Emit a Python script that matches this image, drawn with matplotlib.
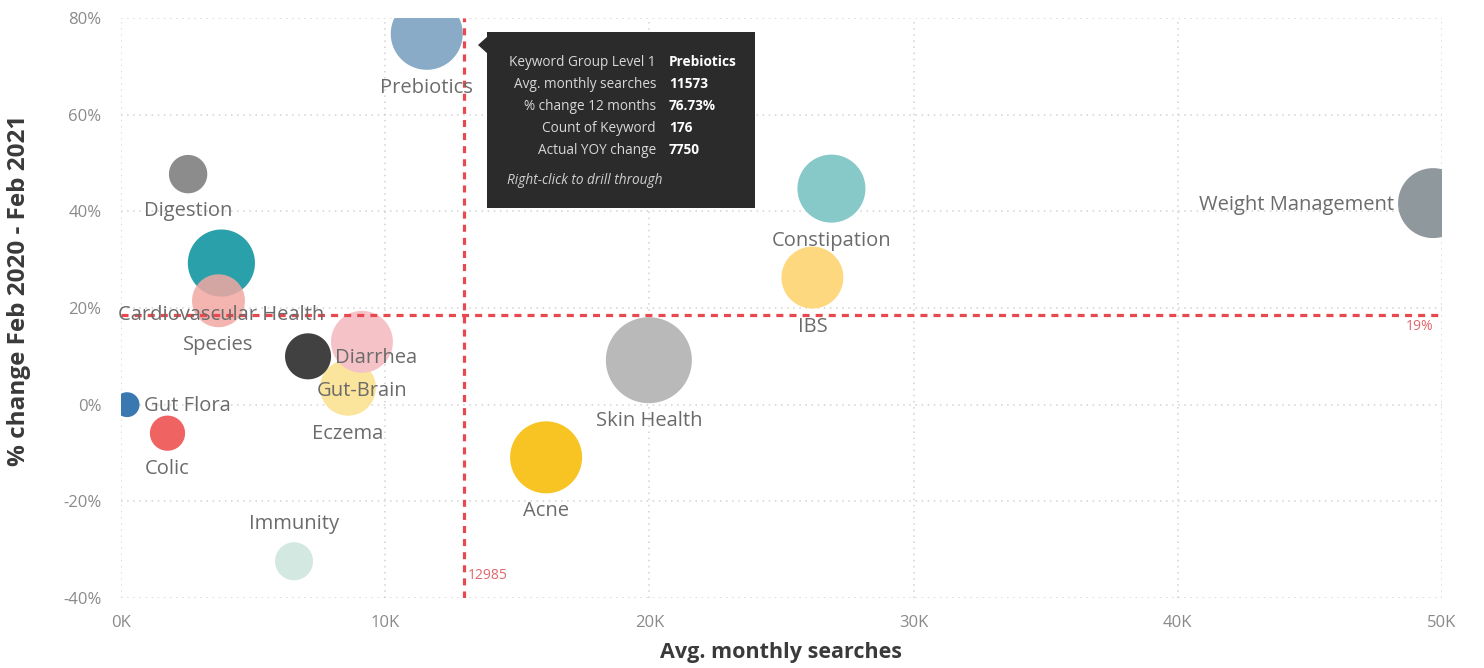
import matplotlib
matplotlib.use('Agg')
import matplotlib.pyplot as plt
from matplotlib.patches import Rectangle, Polygon
from matplotlib.ticker import FuncFormatter
from matplotlib.transforms import IdentityTransform
import numpy as np

plt.rcParams['font.family'] = ['Open Sans', 'DejaVu Sans']

# Data (keyword groups)
names = ['Prebiotics', 'Digestion', 'Cardiovascular Health', 'Species', 'Eczema',
         'Gut-Brain', 'Diarrhea', 'Gut Flora', 'Colic', 'Immunity', 'Acne',
         'Skin Health', 'IBS', 'Constipation', 'Weight Management']
searches = [11573, 2540, 3800, 3690, 8590, 9120, 7080, 230, 1760, 6550, 16090,
            19980, 26170, 26890, 49660]
pct_change = [76.73, 47.7, 29.3, 21.5, 3.5, 13.0, 10.0, 0.0, -5.9, -32.4, -10.9,
              9.2, 26.3, 44.7, 41.7]
keyword_count = [176, 50, 153, 95, 106, 130, 72, 21, 42, 49, 176, 251, 130, 157, 166]

avg_searches = 12985
avg_change = 18.6

tip_labels = ['Keyword Group Level 1', 'Avg. monthly searches', '% change 12 months',
              'Count of Keyword', 'Actual YOY change']
tip_values = ['Prebiotics', '11573', '76.73%', '176', '7750']

# styles
colors = ['#8aabc8', '#8c8c8c', '#2aa0aa', '#f3a8a2', '#fbe49c', '#f5c2c7',
          '#414141', '#3a78b2', '#f06363', '#d2e8e1', '#f8c423', '#b9b9b9',
          '#fdd87e', '#86c9c8', '#8f989c']
alphas = [1, 1, 1, 0.85, 1, 1, 1, 1, 1, 1, 1, 1, 1, 1, 1]
sides = ['below', 'below', 'below', 'below', 'below', 'below', 'right', 'right',
         'below', 'above', 'below', 'below', 'below', 'below', 'left']

W, H = 1484, 668
fig = plt.figure(figsize=(W / 100, H / 100), dpi=100)
ax = fig.add_axes([121 / W, 1 - 598 / H, (1442 - 121) / W, (598 - 18) / H])

ax.set_xlim(0, 50000)
ax.set_ylim(-40, 80)
ax.set_xticks(np.arange(0, 50001, 10000))
ax.set_yticks(np.arange(-40, 81, 20))
ax.xaxis.set_major_formatter(FuncFormatter(lambda v, p: '%dK' % (v / 1000)))
ax.yaxis.set_major_formatter(FuncFormatter(lambda v, p: '%d%%' % v))
ax.tick_params(length=0, labelsize=12, labelcolor='#8a8a8a')
ax.tick_params(axis='x', pad=12)
ax.tick_params(axis='y', pad=14)
for s in ax.spines.values():
    s.set_visible(False)
ax.grid(True, color='#d2d2d2', linestyle=(0, (1, 3)), linewidth=1.1)
ax.set_axisbelow(True)

# bubble radius in pixels, area proportional to keyword count
radius = [36 * np.sqrt(c / 176) for c in keyword_count]

# bubbles built in pixel space and cut to the plot area (as Power BI does)
theta = np.linspace(0, 2 * np.pi, 240)
x0, y0, x1, y1 = ax.bbox.x0, ax.bbox.y0, ax.bbox.x1, ax.bbox.y1
for i in range(len(names)):
    cx, cy = ax.transData.transform((searches[i], pct_change[i]))
    px = np.clip(cx + radius[i] * np.cos(theta), x0, x1)
    py = np.clip(cy + radius[i] * np.sin(theta), y0, y1)
    p = Polygon(np.column_stack([px, py]), closed=True, transform=IdentityTransform(),
                facecolor=colors[i], alpha=alphas[i], edgecolor='none', zorder=3)
    ax.add_artist(p)

for i in range(len(names)):
    r = radius[i] * 0.72
    gap = 13
    if sides[i] == 'below':
        off, ha, va = (0, -(r + gap)), 'center', 'center'
    elif sides[i] == 'above':
        off, ha, va = (0, r + gap), 'center', 'center'
    elif sides[i] == 'right':
        off, ha, va = (r + 3, -1), 'left', 'center'
    else:
        off, ha, va = (-(r + 3), -1), 'right', 'center'
    ax.annotate(names[i], (searches[i], pct_change[i]), xytext=off,
                textcoords='offset points', ha=ha, va=va, fontsize=14.5,
                color='#6b6b6b', zorder=5)

# average lines
ax.axvline(avg_searches, color='#e8484f', linewidth=2.3, linestyle=(0, (2.2, 1.9)), zorder=4)
ax.axhline(avg_change, color='#e8484f', linewidth=2.3, linestyle=(0, (2.2, 1.9)), zorder=4)
ax.annotate('%d' % avg_searches, (avg_searches, -40), xytext=(3, 11),
            textcoords='offset points', ha='left', va='bottom', fontsize=10,
            color='#e0676c')
ax.annotate('%d%%' % round(avg_change), (50000, avg_change), xytext=(-6, -3),
            textcoords='offset points', ha='right', va='top', fontsize=10,
            color='#e0676c')

ax.set_xlabel('Avg. monthly searches', fontsize=15.5, fontweight='bold', color='#3a3a3a',
              labelpad=8)
ax.set_ylabel('% change Feb 2020 - Feb 2021', fontsize=17.5, fontweight='bold',
              color='#3a3a3a')
ax.yaxis.set_label_coords(-0.068, 0.53)


def fx(x):
    return x / W


def fy(y):
    return 1 - y / H


# tooltip
fig.patches.append(Rectangle((fx(487), fy(208)), fx(755) - fx(487), fy(32) - fy(208),
                             transform=fig.transFigure, facecolor='#2b2b2b',
                             edgecolor='none', zorder=10))
fig.patches.append(Polygon([(fx(478), fy(45)), (fx(488), fy(36)), (fx(488), fy(54))],
                           closed=True, transform=fig.transFigure, facecolor='#2b2b2b',
                           edgecolor='none', zorder=10))
for k in range(len(tip_labels)):
    yy = fy(62 + 22 * k)
    fig.text(fx(656), yy, tip_labels[k], ha='right', va='center', fontsize=9.8,
             color='#d8d8d8', zorder=11)
    fig.text(fx(669), yy, tip_values[k], ha='left', va='center', fontsize=9.8,
             color='white', fontweight='bold', zorder=11)
fig.text(fx(507), fy(180), 'Right-click to drill through', ha='left', va='center',
         fontsize=9.8, color='#d0d0d0', style='italic', zorder=11)

fig.savefig('out.png', dpi=100)
